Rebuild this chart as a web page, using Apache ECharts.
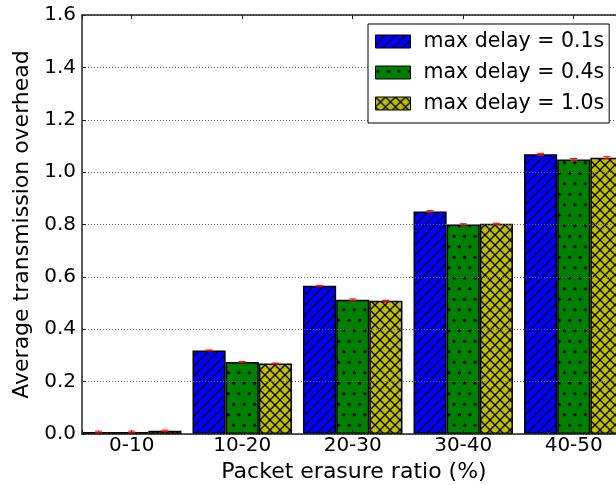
<!DOCTYPE html>
<html><head><meta charset="utf-8">
<script src="https://cdn.jsdelivr.net/npm/echarts@6/dist/echarts.min.js"></script>
<style>html,body{margin:0;padding:0;background:#fff}#c{width:616px;height:485px}</style>
</head><body><div id="c"></div>
<script>
const categories = ['0-10', '10-20', '20-30', '30-40', '40-50'];
const seriesNames = ['max delay = 0.1s', 'max delay = 0.4s', 'max delay = 1.0s'];
const delay01 = [0.008, 0.319, 0.566, 0.850, 1.068];
const delay04 = [0.008, 0.275, 0.513, 0.800, 1.048];
const delay10 = [0.012, 0.269, 0.509, 0.803, 1.055];
const err01 = [0.003, 0.002, 0.002, 0.003, 0.004];
const err04 = [0.003, 0.002, 0.003, 0.003, 0.004];
const err10 = [0.003, 0.002, 0.002, 0.002, 0.004];
const yTicks = [0, 0.2, 0.4, 0.6, 0.8, 1.0, 1.2, 1.4, 1.6];

const FONT = 'DejaVu Sans';

function makePattern(kind, bg) {
  const s = kind === 'dots' ? 21 : 10;
  const c = document.createElement('canvas');
  c.width = s; c.height = s;
  const g = c.getContext('2d');
  g.fillStyle = bg; g.fillRect(0, 0, s, s);
  g.strokeStyle = '#000'; g.fillStyle = '#000'; g.lineWidth = 1.3;
  if (kind === 'slash' || kind === 'cross') {
    g.beginPath();
    for (let k = -1; k <= 1; k++) { g.moveTo(k * s, s); g.lineTo(k * s + s, 0); }
    g.stroke();
  }
  if (kind === 'cross') {
    g.beginPath();
    for (let k = -1; k <= 1; k++) { g.moveTo(k * s, 0); g.lineTo(k * s + s, s); }
    g.stroke();
  }
  if (kind === 'dots') {
    [[2.6, 5.25], [13.1, 5.25], [7.85, 15.75], [18.35, 15.75]].forEach(p => {
      g.beginPath(); g.arc(p[0], p[1], 1.6, 0, Math.PI * 2); g.fill();
    });
  }
  return { image: c, repeat: 'repeat' };
}

const fills = [makePattern('slash', '#0000ff'), makePattern('dots', '#008000'), makePattern('cross', '#bfbf00')];
const values = [delay01, delay04, delay10];
const errs = [err01, err04, err10];
const barStep = 0.3; // bar width in category units

const chart = echarts.init(document.getElementById('c'), null, { renderer: 'canvas' });

const series = [];
values.forEach((vals, j) => {
  series.push({
    name: seriesNames[j], type: 'bar', xAxisIndex: 0, yAxisIndex: 0,
    data: vals.map((v, i) => [i, v]),
    barGap: 0, barCategoryGap: '10%',
    itemStyle: { color: fills[j], borderColor: '#000', borderWidth: 1.5 },
    emphasis: { disabled: true }, z: 2
  });
});
values.forEach((vals, j) => {
  const off = (j - 1) * barStep;
  series.push({
    type: 'custom', xAxisIndex: 0, yAxisIndex: 0, z: 5, silent: true,
    data: vals.map((v, i) => [i, v - errs[j][i], v + errs[j][i]]),
    encode: { x: 0, y: [1, 2] },
    renderItem: function (params, api) {
      const x = api.value(0) + off;
      const lo = api.coord([x, api.value(1)]);
      const hi = api.coord([x, api.value(2)]);
      const st = { stroke: '#ff0000', lineWidth: 1 };
      return { type: 'group', children: [
        { type: 'line', shape: { x1: lo[0], y1: lo[1], x2: hi[0], y2: hi[1] }, style: st },
        { type: 'line', shape: { x1: lo[0] - 3.5, y1: lo[1], x2: lo[0] + 3.5, y2: lo[1] }, style: st },
        { type: 'line', shape: { x1: hi[0] - 3.5, y1: hi[1], x2: hi[0] + 3.5, y2: hi[1] }, style: st }
      ]};
    }
  });
});

const xMin = -0.45, xMax = 4.473;
const axisLineStyle = { color: '#222', width: 1.5 };

chart.setOption({
  animation: false,
  backgroundColor: '#fff',
  textStyle: { fontFamily: FONT },
  grid: { left: 82, right: -10, top: 15, bottom: 51, containLabel: false, outerBoundsMode: 'none' },
  legend: {
    data: seriesNames, orient: 'vertical', left: 368, top: 24,
    icon: 'rect', itemWidth: 35, itemHeight: 13, itemGap: 10,
    padding: [7, 5, 9, 7],
    borderColor: '#000', borderWidth: 1, backgroundColor: '#fff',
    itemStyle: { borderColor: '#000', borderWidth: 1 },
    textStyle: { fontFamily: FONT, fontSize: 20.5, color: '#000', lineHeight: 20, padding: [0, 0, 0, 8] },
    selectedMode: false, z: 10
  },
  xAxis: [{
    type: 'value', min: xMin, max: xMax, splitNumber: 5, minInterval: 1, maxInterval: 1,
    position: 'bottom',
    name: 'Packet erasure ratio (%)', nameLocation: 'middle', nameGap: 18,
    nameTextStyle: { fontFamily: FONT, fontSize: 22, color: '#000' },
    axisLine: { show: true, lineStyle: axisLineStyle, onZero: false },
    axisTick: { show: true, inside: true, length: 4, lineStyle: { color: '#222' } },
    axisLabel: { fontFamily: FONT, fontSize: 20, color: '#000', margin: 2,
      formatter: v => (Number.isInteger(v) && categories[v] !== undefined) ? categories[v] : '' },
    splitLine: { show: false }, z: 3
  }, {
    type: 'value', min: xMin, max: xMax, splitNumber: 5, minInterval: 1, maxInterval: 1,
    position: 'top',
    axisLine: { show: true, lineStyle: axisLineStyle, onZero: false },
    axisTick: { show: true, inside: true, length: 4, lineStyle: { color: '#222' } },
    axisLabel: { show: false }, splitLine: { show: false }, z: 3
  }],
  yAxis: [{
    type: 'value', min: yTicks[0], max: yTicks[yTicks.length - 1], interval: 0.2,
    name: 'Average transmission overhead', nameLocation: 'middle', nameGap: 45,
    nameTextStyle: { fontFamily: FONT, fontSize: 22, color: '#000' },
    axisLine: { show: true, lineStyle: axisLineStyle, onZero: false },
    axisTick: { show: true, inside: true, length: 4, lineStyle: { color: '#222' } },
    axisLabel: { fontFamily: FONT, fontSize: 20, color: '#000', margin: 6, formatter: v => v.toFixed(1) },
    splitLine: { show: true, lineStyle: { color: '#666', width: 1, type: [1, 2] } },
    z: 3
  }],
  series: series
});
</script></body></html>
